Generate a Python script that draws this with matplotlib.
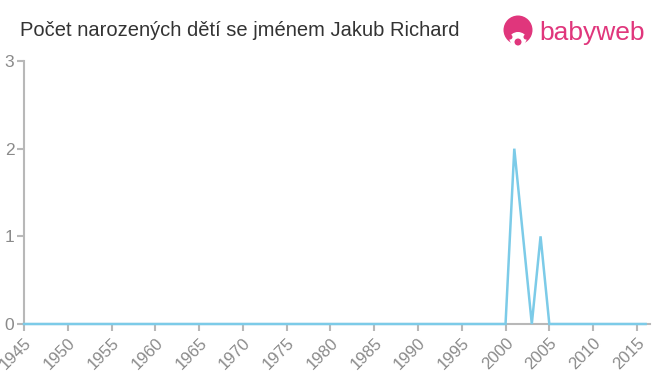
import matplotlib
matplotlib.use("Agg")
import matplotlib.pyplot as plt
from matplotlib.patches import Ellipse

plt.rcParams["font.family"] = ["Liberation Sans", "DejaVu Sans"]

years = list(range(1945, 2017))
counts = [
    0, 0, 0, 0, 0, 0, 0, 0, 0, 0,  # 1945-1954
    0, 0, 0, 0, 0, 0, 0, 0, 0, 0,  # 1955-1964
    0, 0, 0, 0, 0, 0, 0, 0, 0, 0,  # 1965-1974
    0, 0, 0, 0, 0, 0, 0, 0, 0, 0,  # 1975-1984
    0, 0, 0, 0, 0, 0, 0, 0, 0, 0,  # 1985-1994
    0, 0, 0, 0, 0, 0, 2, 1, 0, 1,  # 1995-2004
    0, 0, 0, 0, 0, 0, 0, 0, 0, 0,  # 2005-2014
    0, 0,                          # 2015-2016
]
xticks = list(range(1945, 2020, 5))
yticks = [0, 1, 2, 3]

TITLE = "Počet narozených dětí se jménem Jakub Richard"
GRAY = "#8a8a8a"
SPINE = "#b8b8b8"
LINE = "#7ccbe8"
PINK = "#e0367c"
W, H = 660, 375

fig = plt.figure(figsize=(6.6, 3.75), dpi=100)
ax = fig.add_axes([24 / W, 1 - 324 / H, 626 / W, 263 / H])

ax.plot(years, counts, color=LINE, lw=1.8, solid_joinstyle="miter", zorder=3, clip_on=False)

ax.set_xlim(1945, 2016.5)
ax.set_ylim(0, 3)
ax.set_xticks(xticks)
ax.set_xticklabels([str(t) for t in xticks], rotation=45, ha="right",
                   rotation_mode="anchor", fontsize=12, color=GRAY)
ax.set_yticks(yticks)
ax.set_yticklabels([str(t) for t in yticks], fontsize=12.5, color=GRAY)
ax.tick_params(axis="x", length=5, width=1.5, color=SPINE, pad=3)
ax.tick_params(axis="y", length=5, width=1.5, color=SPINE, pad=2)
for s in ["top", "right"]:
    ax.spines[s].set_visible(False)
for s in ["left", "bottom"]:
    ax.spines[s].set_color(SPINE)
    ax.spines[s].set_linewidth(1.5)

fig.text(20 / W, 1 - 31 / H, TITLE, fontsize=14.5, color="#333333", va="center", ha="left")


def blob(cx, cy, rx, ry, color):
    fig.patches.append(Ellipse((cx / W, 1 - cy / H), 2 * rx / W, 2 * ry / H,
                               transform=fig.transFigure, facecolor=color, edgecolor="none"))


# babyweb logo
blob(518, 30, 14.5, 14.5, PINK)
blob(518, 39, 8.5, 7, "white")
blob(510, 37, 2.5, 2.5, PINK)
blob(526, 37, 2.5, 2.5, PINK)
blob(518, 42, 3.5, 3.5, PINK)
fig.text(539 / W, 1 - 33 / H, "babyweb", fontsize=19, color=PINK, va="center", ha="left")

fig.savefig("out.png", dpi=100, facecolor="white")
